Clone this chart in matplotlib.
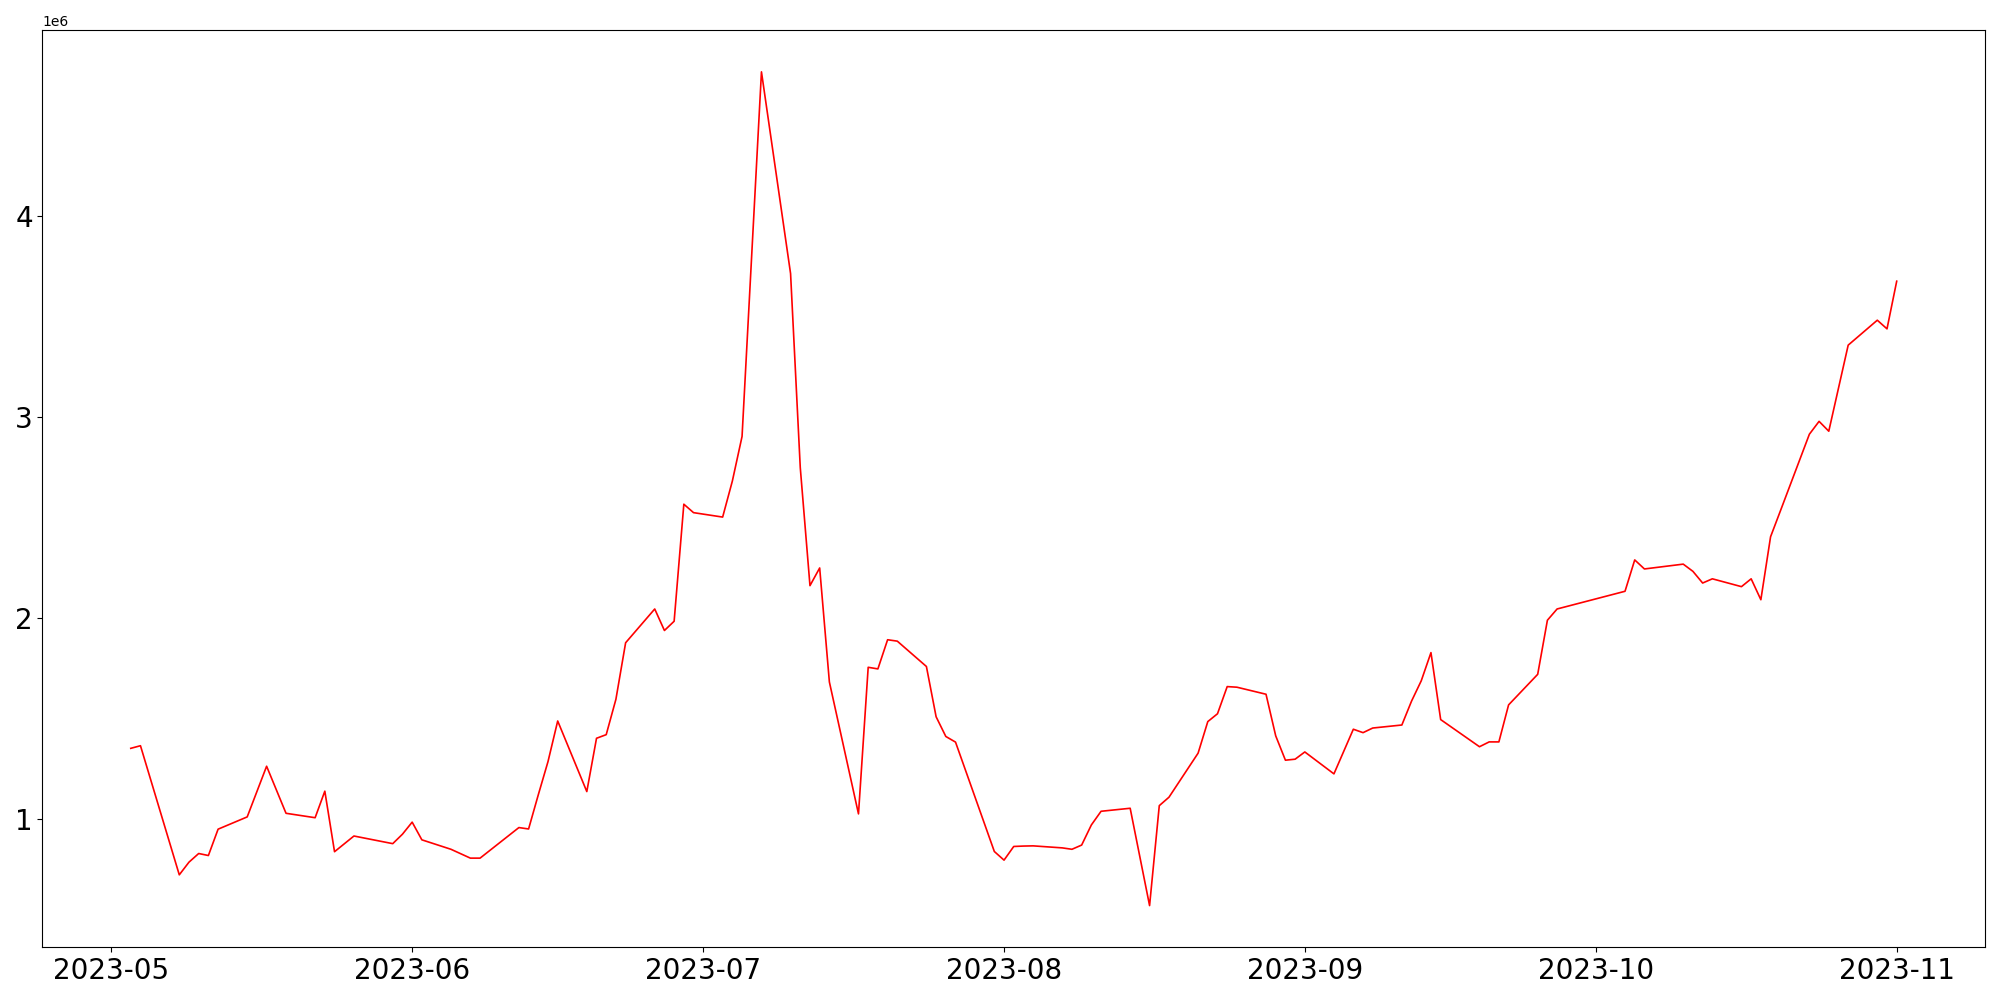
import matplotlib
matplotlib.use('Agg')
import matplotlib.pyplot as plt
import pandas as pd
import numpy as np

dates = [
    '2023-05-03', '2023-05-04', '2023-05-08', '2023-05-09', '2023-05-10', '2023-05-11', '2023-05-12',
    '2023-05-15', '2023-05-17', '2023-05-19', '2023-05-22', '2023-05-23', '2023-05-24', '2023-05-26',
    '2023-05-30', '2023-05-31', '2023-06-01', '2023-06-02', '2023-06-05', '2023-06-07', '2023-06-08',
    '2023-06-12', '2023-06-13', '2023-06-14', '2023-06-15', '2023-06-16', '2023-06-19', '2023-06-20',
    '2023-06-21', '2023-06-22', '2023-06-23', '2023-06-26', '2023-06-27', '2023-06-28', '2023-06-29',
    '2023-06-30', '2023-07-03', '2023-07-04', '2023-07-05', '2023-07-07', '2023-07-10', '2023-07-11',
    '2023-07-12', '2023-07-13', '2023-07-14', '2023-07-17', '2023-07-18', '2023-07-19', '2023-07-20',
    '2023-07-21', '2023-07-24', '2023-07-25', '2023-07-26', '2023-07-27', '2023-07-31', '2023-08-01',
    '2023-08-02', '2023-08-03', '2023-08-04', '2023-08-07', '2023-08-08', '2023-08-09', '2023-08-10',
    '2023-08-11', '2023-08-14', '2023-08-16', '2023-08-17', '2023-08-18', '2023-08-21', '2023-08-22',
    '2023-08-23', '2023-08-24', '2023-08-25', '2023-08-28', '2023-08-29', '2023-08-30', '2023-08-31',
    '2023-09-01', '2023-09-04', '2023-09-06', '2023-09-07', '2023-09-08', '2023-09-11', '2023-09-12',
    '2023-09-13', '2023-09-14', '2023-09-15', '2023-09-19', '2023-09-20', '2023-09-21', '2023-09-22',
    '2023-09-25', '2023-09-26', '2023-09-27', '2023-10-04', '2023-10-05', '2023-10-06', '2023-10-10',
    '2023-10-11', '2023-10-12', '2023-10-13', '2023-10-16', '2023-10-17', '2023-10-18', '2023-10-19',
    '2023-10-20', '2023-10-23', '2023-10-24', '2023-10-25', '2023-10-27', '2023-10-30', '2023-10-31',
    '2023-11-01',
]

# values in millions
values = [
    1.351, 1.364, 0.722, 0.785, 0.828, 0.818, 0.949,
    1.010, 1.262, 1.028, 1.006, 1.138, 0.837, 0.915,
    0.877, 0.924, 0.984, 0.896, 0.849, 0.805, 0.805,
    0.957, 0.950, 1.120, 1.285, 1.487, 1.136, 1.401,
    1.419, 1.595, 1.876, 2.044, 1.937, 1.983, 2.565,
    2.523, 2.501, 2.680, 2.902, 4.715, 3.712, 2.747,
    2.160, 2.248, 1.681, 1.025, 1.754, 1.746, 1.891,
    1.884, 1.758, 1.508, 1.410, 1.382, 0.838, 0.795,
    0.863, 0.865, 0.866, 0.856, 0.849, 0.870, 0.970,
    1.038, 1.053, 0.569, 1.066, 1.108, 1.327, 1.484,
    1.523, 1.658, 1.655, 1.620, 1.413, 1.292, 1.297,
    1.333, 1.224, 1.446, 1.429, 1.452, 1.467, 1.586,
    1.687, 1.827, 1.494, 1.359, 1.383, 1.383, 1.567,
    1.719, 1.988, 2.044, 2.132, 2.288, 2.243, 2.267,
    2.231, 2.173, 2.194, 2.155, 2.194, 2.090, 2.403,
    2.530, 2.913, 2.977, 2.928, 3.356, 3.480, 3.437,
    3.674,
]

x = pd.to_datetime(dates)
y = np.array(values) * 1e6

plt.figure(figsize=(20, 10), dpi=100)
plt.plot(x, y, color='red', linewidth=1.2)
plt.xticks(fontsize=20)
plt.yticks(fontsize=20)
plt.tight_layout()
plt.savefig('out.png')
